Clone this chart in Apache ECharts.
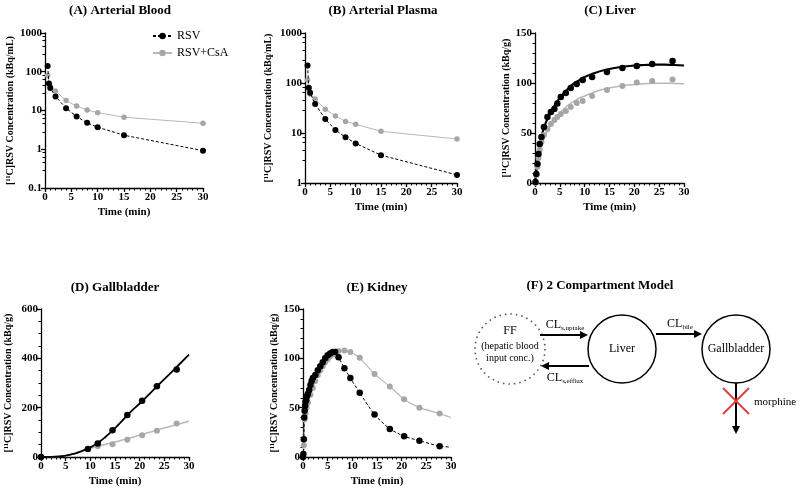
<!DOCTYPE html>
<html><head><meta charset="utf-8">
<script src="https://cdn.jsdelivr.net/npm/echarts@6.0.0/dist/echarts.min.js"></script>
<style>html,body{margin:0;padding:0;background:#fff}#c{width:800px;height:495px}</style>
</head><body><div id="c"></div>
<script>
// ---------- DATA ----------
const xTicks = [0, 5, 10, 15, 20, 25, 30];
// (A) Arterial blood
const bloodT = [0.5, 0.75, 1, 2, 4, 6, 8, 10, 15, 30];
const bloodRSV = [140, 50, 38, 23, 11.5, 7, 4.8, 3.7, 2.3, 0.92];
const bloodCsA = [80, 50, 42, 32, 18, 13, 10.3, 8.8, 6.7, 4.7];
// (B) Arterial plasma
const plasmaT = [0.5, 0.75, 1, 2, 4, 6, 8, 10, 15, 30];
const plasmaRSV = [225, 80, 64, 38, 19, 11.5, 8.2, 6.2, 3.6, 1.45];
const plasmaCsA = [115, 75, 60, 48, 30, 22, 17, 15, 10.8, 7.6];
// (C) Liver
const liverT = [0.1, 0.27, 0.5, 0.7, 0.95, 1.3, 1.8, 2.5, 3.2, 3.9, 4.5, 5.2, 6.2, 7.2, 8.4, 9.6, 11.5, 14.5, 17.6, 20.5, 23.6, 27.7];
const liverRSV = [1, 9, 19, 29, 39, 46, 56, 66, 71, 74, 79.5, 86, 90, 95, 99, 103, 106, 111, 115, 117, 119, 122];
const liverCsA = [0, 8, 16, 25, 33, 41, 48, 54, 59, 63, 66, 69, 72, 76, 80, 82, 87, 93, 97, 100.5, 102, 103.5];
const liverFitT = [0, 0.25, 0.5, 0.75, 1, 1.5, 2, 2.5, 3, 4, 5, 6, 7, 8, 9, 10, 12, 14, 16, 18, 20, 22, 24, 26, 28, 30];
const liverFitRSV = [0, 11, 22, 31, 38, 50, 58, 64, 69, 78, 85, 91, 96, 100, 103, 106, 110, 113, 115, 116.5, 117.5, 118, 118.3, 118.3, 118, 117.5];
const liverFitCsA = [0, 9, 17, 24, 30, 40, 47, 52, 57, 64, 70, 75, 79, 82, 85, 87, 91, 94, 96, 97.5, 98.5, 99.3, 99.7, 99.8, 99.6, 99.3];
// (D) Gallbladder
const gbT = [0, 9.5, 11.5, 14.5, 17.5, 20.5, 23.5, 27.5];
const gbRSV = [0, 32, 55, 108, 170, 228, 287, 355];
const gbCsAT = [0, 11.5, 14.5, 17.5, 20.5, 23.5, 27.5];
const gbCsA = [0, 44, 52, 70, 88, 106, 136];
const gbFitT = [0, 2, 4, 5, 6, 7, 8, 9, 10, 11, 12, 13, 14, 15, 16, 18, 20, 22, 24, 26, 28, 30];
const gbFitRSV = [0, 0.5, 3, 6, 10, 15, 22, 30, 39, 51, 64, 80, 98, 117, 137, 180, 217, 256, 296, 335, 375, 415];
const gbFitCsA = [0, 0.5, 3, 6, 10, 15, 22, 29, 35, 41, 46, 51, 56, 61, 66, 77, 88, 100, 112, 123, 134, 145];
// (E) Kidney
const kidT = [0, 0.08, 0.17, 0.25, 0.33, 0.42, 0.5, 0.67, 0.83, 1, 1.25, 1.5, 1.75, 2, 2.5, 3, 3.5, 4, 4.5, 5, 5.5, 6, 6.5, 7.2, 8.4, 9.6, 11.5, 14.5, 17.6, 20.5, 23.6, 27.7];
const kidRSV = [0, 3, 18, 40, 47, 52, 56, 58, 62, 64, 68, 73, 77, 80, 83, 88, 92, 96, 100, 103, 105, 106.5, 106.5, 101, 90, 80, 65, 43, 28.5, 21, 16.5, 11];
const kidCsAT = [0, 0.17, 0.33, 0.5, 0.75, 1, 1.5, 2, 2.5, 3, 3.5, 4, 4.5, 5, 5.5, 6, 6.5, 7.2, 8.4, 9.6, 11.5, 14.5, 17.6, 20.5, 23.6, 27.7];
const kidCsA = [0, 12, 38, 44, 50, 55, 63, 70, 77, 83, 88, 92, 96, 99, 102, 104, 106, 107.5, 108, 106.5, 100.5, 84, 71.5, 58.5, 50, 44];
const kidEndT = 30;
const kidEndRSV = 10;
const kidEndCsA = 40;

// ---------- STYLE ----------
const FONT = 'Liberation Serif';
const BLACK = '#000';
const GRAY = '#a6a6a6';
const GRAYLINE = '#b8b8b8';

const zip = (t, v) => t.map((x, i) => [x, v[i]]);

const grids = [
  {left: 45, top: 33, width: 158, height: 155},
  {left: 305, top: 33, width: 152, height: 150},
  {left: 535, top: 33, width: 149, height: 150},
  {left: 41, top: 309, width: 148, height: 148},
  {left: 303, top: 309, width: 148, height: 148}
];

const lblStyle = {fontFamily: FONT, fontWeight: 'bold', fontSize: 11, color: '#000'};
function xAxisCfg(gi) {
  return {
    type: 'value', gridIndex: gi, min: xTicks[0], max: xTicks[xTicks.length - 1], interval: xTicks[1] - xTicks[0],
    name: 'Time (min)', nameLocation: 'middle', nameGap: 19,
    nameTextStyle: {fontFamily: FONT, fontWeight: 'bold', fontSize: 11, color: '#000'},
    axisLine: {onZero: false, lineStyle: {color: '#000', width: 1.3}},
    axisTick: {length: 4, lineStyle: {color: '#000', width: 1.3}},
    minorTick: {show: true, splitNumber: 5, length: 2.5, lineStyle: {color: '#000', width: 1}},
    axisLabel: Object.assign({margin: 4}, lblStyle),
    splitLine: {show: false}
  };
}
function yAxisCfg(gi, opt, unit, gap) {
  return Object.assign({
    gridIndex: gi,
    name: '[\u00B9\u00B9C]RSV Concentration (' + unit + ')', nameLocation: 'middle', nameGap: gap,
    nameTextStyle: {fontFamily: FONT, fontWeight: 'bold', fontSize: 10, color: '#000'},
    axisLine: {show: true, onZero: false, lineStyle: {color: '#000', width: 1.3}},
    axisTick: {show: true, length: 4, lineStyle: {color: '#000', width: 1.3}},
    axisLabel: Object.assign({margin: 3, formatter: v => String(+(+v).toPrecision(4))}, lblStyle),
    splitLine: {show: false}
  }, opt);
}

const xAxes = [0, 1, 2, 3, 4].map(xAxisCfg);
const yAxes = [
  yAxisCfg(0, {type: 'log', logBase: 10, min: 0.1, max: 1000, minorTick: {show: true, splitNumber: 5, length: 2.5, lineStyle: {color: '#000'}}}, 'kBq/mL', 30),
  yAxisCfg(1, {type: 'log', logBase: 10, min: 1, max: 1000, minorTick: {show: true, splitNumber: 5, length: 2.5, lineStyle: {color: '#000'}}}, 'kBq/mL', 32),
  yAxisCfg(2, {type: 'value', min: 0, max: 150, interval: 50, minorTick: {show: true, splitNumber: 5, length: 2.5, lineStyle: {color: '#000'}}}, 'kBq/g', 22),
  yAxisCfg(3, {type: 'value', min: 0, max: 600, interval: 200, minorTick: {show: true, splitNumber: 4, length: 2.5, lineStyle: {color: '#000'}}}, 'kBq/g', 28),
  yAxisCfg(4, {type: 'value', min: 0, max: 150, interval: 50, minorTick: {show: true, splitNumber: 5, length: 2.5, lineStyle: {color: '#000'}}}, 'kBq/g', 24)
];

function connected(name, gi, data, dashed) {
  const col = dashed ? BLACK : GRAY;
  return {
    type: 'line', name: name, xAxisIndex: gi, yAxisIndex: gi, data: data,
    symbol: 'circle', symbolSize: dashed ? 6 : 5.5, showSymbol: true,
    itemStyle: {color: col},
    lineStyle: {color: dashed ? BLACK : GRAYLINE, width: 1, type: dashed ? [3, 2] : 'solid'},
    z: dashed ? 4 : 3, animation: false
  };
}
function curve(name, gi, data, color, width, dashed, smooth) {
  return {
    type: 'line', name: name, xAxisIndex: gi, yAxisIndex: gi, data: data, showSymbol: false, symbol: 'none',
    smooth: smooth || false,
    lineStyle: {color: color, width: width, type: dashed ? [3, 2] : 'solid'}, itemStyle: {color: color},
    z: color === BLACK ? 4 : 3, animation: false
  };
}
function dots(name, gi, data, color, size) {
  return {
    type: 'scatter', name: name, xAxisIndex: gi, yAxisIndex: gi, data: data,
    symbol: 'circle', symbolSize: size, itemStyle: {color: color, opacity: 1},
    z: color === BLACK ? 5 : 4, animation: false
  };
}

const series = [
  // A
  connected('RSV', 0, zip(bloodT, bloodRSV), true),
  connected('RSV+CsA', 0, zip(bloodT, bloodCsA), false),
  // B
  connected('RSV', 1, zip(plasmaT, plasmaRSV), true),
  connected('RSV+CsA', 1, zip(plasmaT, plasmaCsA), false),
  // C
  curve('RSV+CsA', 2, zip(liverFitT, liverFitCsA), GRAYLINE, 1.5, false, true),
  dots('RSV+CsA', 2, zip(liverT, liverCsA), GRAY, 6),
  curve('RSV', 2, zip(liverFitT, liverFitRSV), BLACK, 2.2, false, true),
  dots('RSV', 2, zip(liverT, liverRSV), BLACK, 6.5),
  // D
  curve('RSV+CsA', 3, zip(gbFitT, gbFitCsA), GRAYLINE, 1.5, false, true),
  dots('RSV+CsA', 3, zip(gbCsAT, gbCsA), GRAY, 6),
  curve('RSV', 3, zip(gbFitT, gbFitRSV), BLACK, 1.8, false, true),
  dots('RSV', 3, zip(gbT, gbRSV), BLACK, 6.5),
  // E
  curve('RSV+CsA', 4, zip(kidCsAT, kidCsA).concat([[kidEndT, kidEndCsA]]), GRAYLINE, 1.2, false, 0.2),
  dots('RSV+CsA', 4, zip(kidCsAT, kidCsA), GRAY, 6),
  curve('RSV', 4, zip(kidT, kidRSV).concat([[kidEndT, kidEndRSV]]), BLACK, 1, true, 0.2),
  dots('RSV', 4, zip(kidT, kidRSV), BLACK, 6.5)
];

// ---------- DIAGRAM / TITLES ----------
function txt(x, y, s, size, weight, align, color) {
  return {type: 'text', x: x, y: y, silent: true,
    style: {text: s, fontFamily: FONT, fontSize: size, fontWeight: weight || 'normal', fill: color || '#000',
      align: align || 'center', verticalAlign: 'middle'}};
}
function subTxt(x, y, main, sub) {
  return {type: 'text', x: x, y: y, silent: true,
    style: {text: '{m|' + main + '}{s|' + sub + '}', align: 'center', verticalAlign: 'middle',
      rich: {m: {fontFamily: FONT, fontSize: 12, fill: '#000', lineHeight: 14},
             s: {fontFamily: FONT, fontSize: 7, fill: '#000', lineHeight: 14, padding: [7, 0, 0, 0]}}}};
}
function arrow(x1, y1, x2, y2) {
  const dx = x2 - x1, dy = y2 - y1, L = Math.hypot(dx, dy), ux = dx / L, uy = dy / L;
  const hl = 8, hw = 4;
  const bx = x2 - ux * hl, by = y2 - uy * hl;
  return [
    {type: 'line', silent: true, shape: {x1: x1, y1: y1, x2: bx, y2: by}, style: {stroke: '#000', lineWidth: 2}},
    {type: 'polygon', silent: true, shape: {points: [[x2, y2], [bx - uy * hw, by + ux * hw], [bx + uy * hw, by - ux * hw]]}, style: {fill: '#000'}}
  ];
}
function circ(cx, cy, r, dotted) {
  return {type: 'circle', silent: true, shape: {cx: cx, cy: cy, r: r},
    style: {fill: 'none', stroke: dotted ? '#555' : '#000', lineWidth: dotted ? 1.6 : 1.5, lineDash: dotted ? [1.5, 4] : null}};
}

const graphics = [
  txt(120, 11, '(A) Arterial Blood', 13, 'bold'),
  txt(383, 11, '(B) Arterial Plasma', 13, 'bold'),
  txt(610, 11, '(C) Liver', 13, 'bold'),
  txt(115, 288, '(D) Gallbladder', 13, 'bold'),
  txt(377, 288, '(E) Kidney', 13, 'bold'),
  txt(600, 286, '(F) 2 Compartment Model', 13, 'bold'),
  circ(510, 349, 35, true),
  txt(510, 331, 'FF', 12),
  txt(510, 346, '(hepatic blood', 10),
  txt(510, 358, 'input conc.)', 10),
  circ(622, 349, 34, false),
  txt(622, 349, 'Liver', 12),
  circ(736, 349, 34, false),
  txt(736, 349, 'Gallbladder', 12),
  ...arrow(540, 335, 588, 335),
  subTxt(565, 325, 'CL', 's,uptake'),
  ...arrow(589, 366, 541, 366),
  subTxt(565, 378, 'CL', 's,efflux'),
  ...arrow(656, 334, 702, 334),
  subTxt(680, 324, 'CL', 'bile'),
  ...arrow(736, 383, 736, 434),
  {type: 'line', silent: true, shape: {x1: 723, y1: 388, x2: 749, y2: 414}, style: {stroke: '#e04040', lineWidth: 2}},
  {type: 'line', silent: true, shape: {x1: 749, y1: 388, x2: 723, y2: 414}, style: {stroke: '#e04040', lineWidth: 2}},
  txt(754, 402, 'morphine', 11, 'normal', 'left')
];

const chart = echarts.init(document.getElementById('c'), null, {renderer: 'canvas'});
chart.setOption({
  animation: false,
  backgroundColor: '#fff',
  grid: grids,
  xAxis: xAxes,
  yAxis: yAxes,
  legend: {
    data: ['RSV', 'RSV+CsA'], orient: 'vertical', left: 152, top: 30, itemGap: 5, padding: 0,
    itemWidth: 19, itemHeight: 8, selectedMode: false,
    textStyle: {fontFamily: FONT, fontSize: 12, color: '#000'}
  },
  series: series,
  graphic: graphics
});
</script>
</body></html>
